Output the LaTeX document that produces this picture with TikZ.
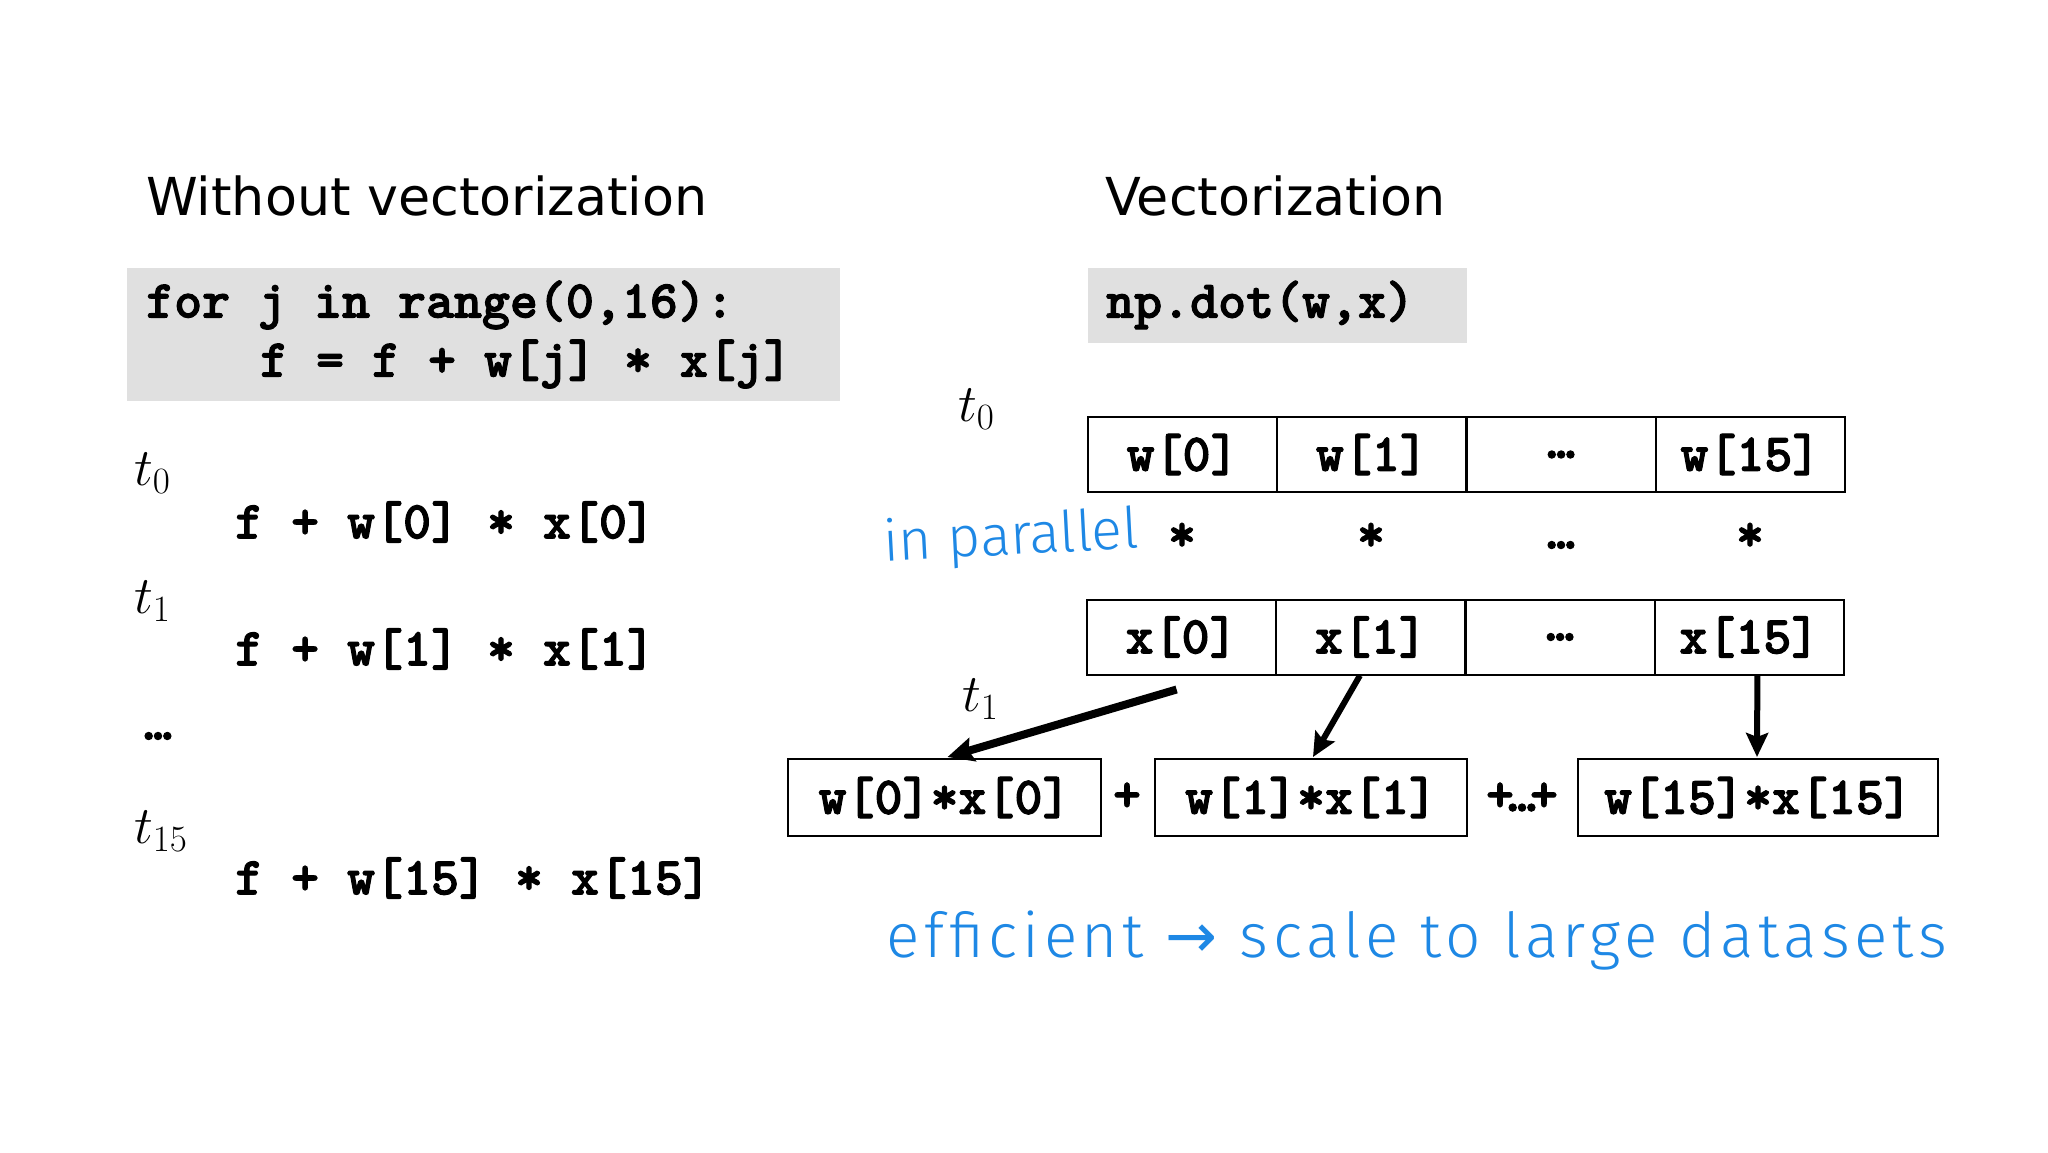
\documentclass[tikz,border=0pt]{standalone}
\usepackage{fix-cm}
\usepackage{fontspec}
\usetikzlibrary{arrows.meta,calc}
\newfontfamily\titlefont{DejaVu Sans}
\IfFontExistsTF{Fira Sans Light}{%
  \newfontfamily\handfont{Fira Sans Light}[LetterSpace=7.5]%
  \newfontfamily\handfontB{Fira Sans Light}}{%
  \newfontfamily\handfont{Fira Sans}[LetterSpace=7.5]%
  \newfontfamily\handfontB{Fira Sans}}
\newfontfamily\arrowfont{DejaVu Sans}
\newfontfamily\codefont{lmmonolt10-bold.otf}[FakeBold=2]
\definecolor{handblue}{RGB}{30,136,229}
\definecolor{codegray}{RGB}{224,224,224}
\tikzset{
  codetxt/.style={font=\codefont\fontsize{53.3}{62}\selectfont, inner sep=0pt, anchor=west},
  ctext/.style={font=\codefont\fontsize{53.3}{62}\selectfont, inner sep=0pt},
  cell/.style={draw, line width=2pt, inner sep=0pt, minimum height=75pt,
     font=\codefont\fontsize{53.3}{62}\selectfont},
  graybox/.style={fill=codegray, draw=none, inner sep=0pt},
  tlab/.style={font=\fontsize{53}{62}\selectfont, inner sep=0pt, anchor=west},
  title/.style={font=\titlefont\fontsize{52.3}{62}\selectfont, inner sep=0pt, anchor=west},
  hand/.style={font=\handfont\fontsize{62}{72}\selectfont, text=handblue, inner sep=0pt},
  handB/.style={font=\handfontB\fontsize{57}{66}\selectfont, text=handblue, inner sep=0pt},
  arr/.style={-{Stealth[length=24pt,width=22pt,inset=4pt]}, line width=6pt},
  arrthick/.style={-{Stealth[length=26pt,width=24pt,inset=4pt]}, line width=8pt},
}
\begin{document}
\begin{tikzpicture}[x=1pt,y=-1pt]
\useasboundingbox (0,0) rectangle (2048,1152);
\fill[white] (0,0) rectangle (2048,1152);

% titles
\node[title] (tleft) at (146,196) {Without vectorization};
\node[title] (tright) at (1105,196) {Vectorization};

% left code box
\node[graybox, minimum width=713pt, minimum height=133pt] (codebox) at (483.5,334.5) {};
\node[codetxt] (code1) at (146,305) {for j in range(0,16):};
\node[codetxt] (code2) at (260,364) {f = f + w[j] * x[j]};

% left time steps
\node[tlab] (lt0) at (134,473) {$t_0$};
\node[codetxt] (l1) at (235,522) {f + w[0] * x[0]};
\node[tlab] (lt1) at (134,601) {$t_1$};
\node[codetxt] (l2) at (235,649) {f + w[1] * x[1]};
\node[ctext] (ldots) at (158,736) {…};
\node[tlab] (lt15) at (134,831) {$t_{15}$};
\node[codetxt] (l3) at (235,878) {f + w[15] * x[15]};

% right code box
\node[graybox, minimum width=379pt, minimum height=75pt] (npbox) at (1277.5,305.5) {};
\node[codetxt] (np) at (1106,305) {np.dot(w,x)};

\node[tlab] (rt0) at (958,409) {$t_0$};

% w array
\node[cell, minimum width=189.25pt] (w0) at (1182.6,454.5) {w[0]};
\node[cell, minimum width=189.25pt] (w1) at (1371.9,454.5) {w[1]};
\node[cell, minimum width=189.25pt] (w2) at (1561.1,454.5) {\raisebox{-6pt}{…}};
\node[cell, minimum width=189.25pt] (w3) at (1750.4,454.5) {w[15]};

% stars
\node[ctext] (s0) at (1182,537) {*};
\node[ctext] (s1) at (1371,537) {*};
\node[ctext] (s2) at (1561,545) {…};
\node[ctext] (s3) at (1750,537) {*};

\node[handB, rotate=3] (par) at (1011,539) {in parallel};

% x array
\node[cell, minimum width=189.25pt] (x0) at (1181.6,637) {x[0]};
\node[cell, minimum width=189.25pt] (x1) at (1370.9,637) {x[1]};
\node[cell, minimum width=189.25pt] (x2) at (1560.1,637) {\raisebox{-6pt}{…}};
\node[cell, minimum width=189.25pt] (x3) at (1749.4,637) {x[15]};

\node[tlab] (rt1) at (962,699) {$t_1$};

% products
\node[cell, minimum width=313pt, minimum height=77pt] (p0) at (944.5,797.5) {w[0]*x[0]};
\node[ctext] (plus1) at (1127,797) {+};
\node[cell, minimum width=312pt, minimum height=77pt] (p1) at (1311,797.5) {w[1]*x[1]};
\node[ctext] (plus2) at (1522,797) {+\kern-6pt…\kern-6pt+};
\node[cell, minimum width=360pt, minimum height=77pt] (p3) at (1758,797.5) {w[15]*x[15]};

% arrows
\draw[arrthick] ($(x0.south)+(-5,14)$) -- ($(p0.north)+(3,-1)$);
\draw[arr] ($(x1.south)+(-11,0)$) -- ($(p1.north)+(2,-1)$);
\draw[arr] ($(x3.south)+(8,0)$) -- ($(p3.north)+(-1,-1)$);

% handwritten note
\node[hand] (eff) at (1417,940) {efficient {\arrowfont →} scale to large datasets};
\end{tikzpicture}
\end{document}
